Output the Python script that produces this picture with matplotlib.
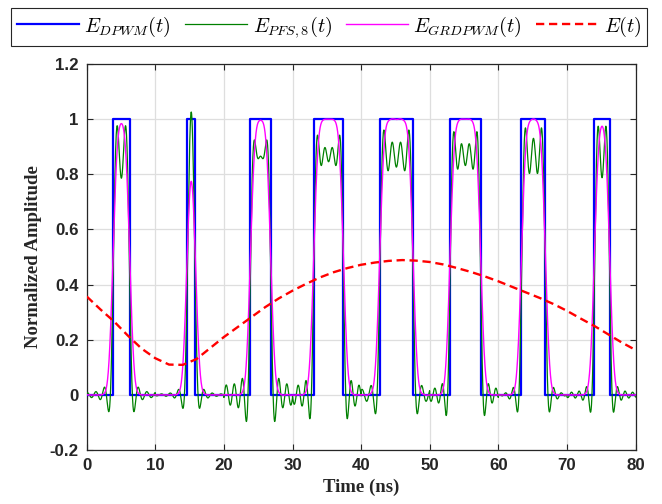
import numpy as np
import matplotlib
matplotlib.use("Agg")
import matplotlib.pyplot as plt

# ── data ─────────────────────────────────────────────────────────────────────
# DPWM pulse edges (ns), one pulse per 10 ns slot
T_RISE = [3.83, 14.63, 23.86, 33.09, 42.71, 52.96, 63.37, 74.00]
T_FALL = [6.27, 15.84, 26.82, 37.42, 47.57, 57.43, 66.87, 76.24]

# envelope E(t)
E_TIME = list(range(0, 82, 2))
E_VAL = [0.357, 0.310, 0.266, 0.215, 0.168, 0.133, 0.110, 0.109, 0.130, 0.170,
         0.210, 0.246, 0.282, 0.318, 0.350, 0.378, 0.403, 0.426, 0.445, 0.460,
         0.472, 0.480, 0.486, 0.489, 0.487, 0.482, 0.473, 0.460, 0.446, 0.430,
         0.412, 0.392, 0.372, 0.352, 0.330, 0.305, 0.277, 0.250, 0.220, 0.190,
         0.163]

SLOT = 10.0         # ns, PWM slot
N_HARM = 8          # harmonics kept per slot
PFS_GAIN = 0.87
GAUSS_SIGMA = 0.5   # ns

# ── per-slot partial Fourier series of the pulses ────────────────────────────
t = np.linspace(0, 80, 8001)
pfs = np.zeros_like(t)
grd = np.zeros_like(t)
k = np.arange(1, N_HARM + 1)
for j, (r, f) in enumerate(zip(T_RISE, T_FALL)):
    c, w = (r + f) / 2, f - r
    m = (t >= j * SLOT) & (t <= (j + 1) * SLOT)
    ph = np.cos(2 * np.pi * np.outer(t[m] - c, k) / SLOT)
    coef = 2 * np.sin(np.pi * k * w / SLOT) / (np.pi * k)
    gw = np.exp(-2 * (np.pi * GAUSS_SIGMA * k / SLOT) ** 2)
    pfs[m] = PFS_GAIN * (w / SLOT + ph @ coef)
    grd[m] = w / SLOT + ph @ (coef * gw)

# blue rectangle path
bx, by = [0], [0]
for r, f in zip(T_RISE, T_FALL):
    bx += [r, r, f, f]
    by += [0, 1, 1, 0]
bx.append(80)
by.append(0)

# ── figure ───────────────────────────────────────────────────────────────────
plt.rcParams["mathtext.fontset"] = "cm"
fig = plt.figure(figsize=(6.62, 5.04), dpi=100, facecolor="white")
ax = fig.add_axes([0.131, 0.107, 0.829, 0.766])

l1, = ax.plot(bx, by, color="#0000ff", lw=1.6, zorder=3, label=r"$E_{DPWM}(t)$")
l2, = ax.plot(t, pfs, color="#008000", lw=0.9, zorder=4, label=r"$E_{PFS,8}(t)$")
l3, = ax.plot(t, grd, color="#ff00ff", lw=1.0, zorder=5, label=r"$E_{GRDPWM}(t)$")
l4, = ax.plot(E_TIME, E_VAL, color="#ff0000", lw=1.7, ls=(0, (3.5, 2.0)), zorder=6,
              label=r"$E(t)$")

ax.set_xlim(0, 80)
ax.set_ylim(-0.2, 1.2)
ax.set_xticks(np.arange(0, 81, 10))
ax.set_yticks([-0.2, 0, 0.2, 0.4, 0.6, 0.8, 1, 1.2])
ax.set_yticklabels(["-0.2", "0", "0.2", "0.4", "0.6", "0.8", "1", "1.2"])
ax.grid(True, color="#dedede", lw=0.9, zorder=0)
ax.set_axisbelow(True)

for lab in ax.get_xticklabels() + ax.get_yticklabels():
    lab.set_fontfamily("Liberation Sans")
    lab.set_fontweight("bold")
    lab.set_fontsize(12.2)
ax.tick_params(direction="in", length=4, width=0.8, colors="#262626",
               top=True, right=True, pad=6)
for sp in ax.spines.values():
    sp.set_color("#262626")
    sp.set_linewidth(0.9)

ax.set_xlabel("Time (ns)", fontfamily="Liberation Serif", fontweight="bold",
              fontsize=13.5, color="#262626", labelpad=4)
ax.set_ylabel("Normalized Amplitude", fontfamily="Liberation Serif", fontweight="bold",
              fontsize=13.5, color="#262626", labelpad=5)

leg = fig.legend(handles=[l1, l2, l3, l4], loc="upper center",
                 bbox_to_anchor=(0.497, 0.985), ncol=4, fontsize=14.5,
                 frameon=True, fancybox=False, edgecolor="#262626", framealpha=1,
                 handlelength=3.1, handletextpad=0.25, columnspacing=0.7,
                 borderpad=0.3, borderaxespad=0)
leg.get_frame().set_linewidth(0.8)

fig.savefig("out.png", dpi=100, facecolor="white")
